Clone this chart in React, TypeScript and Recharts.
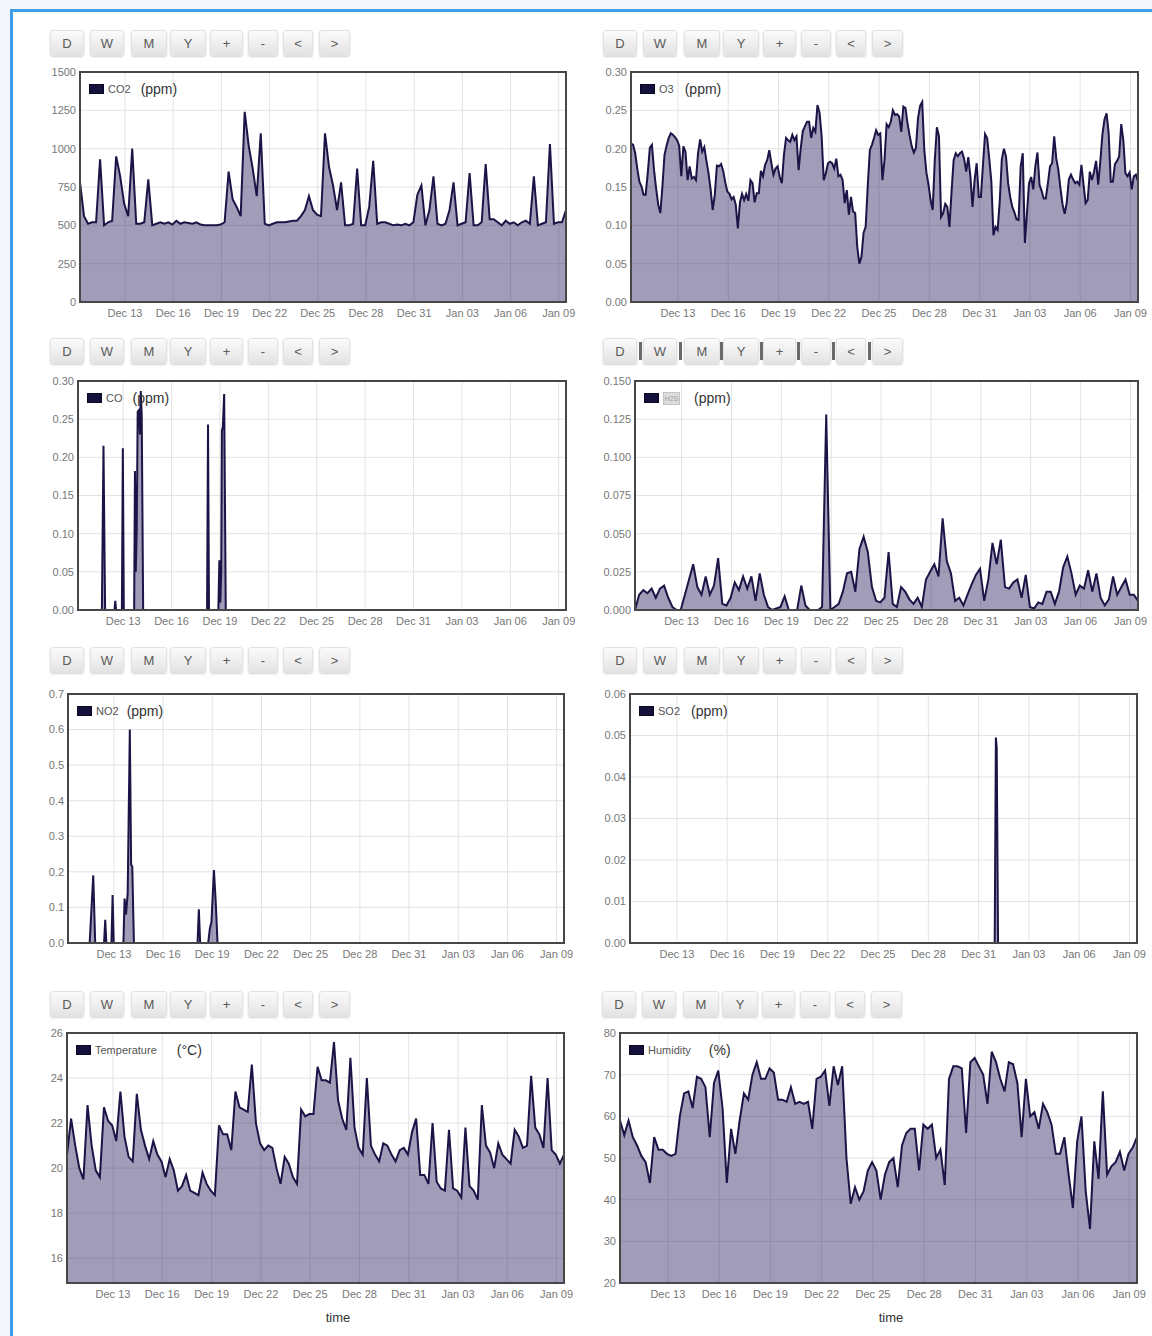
import React from 'react';
import { AreaChart, Area, XAxis, YAxis, CartesianGrid } from 'recharts';

const FONT = '"Liberation Sans", Arial, Helvetica, sans-serif';
const X_DOMAIN: [number, number] = [10.2, 40.45];
const GRID_START = 10.2; // Dec 10, ~05:00
const GRID_STEP = 0.25; // 6 hours
const O3_STEP = 0.125; // 3 hours

// x ticks (day numbers, Jan 1 = 32)
const tickDays = [13, 16, 19, 22, 25, 28, 31, 34, 37, 40];
const tickLabels = ['Dec 13', 'Dec 16', 'Dec 19', 'Dec 22', 'Dec 25', 'Dec 28', 'Dec 31', 'Jan 03', 'Jan 06', 'Jan 09'];

const buttonLabels = ['D', 'W', 'M', 'Y', '+', '-', '<', '>'];

// ---- series on a 6-hour grid ----
const co2Values = [
  780, 560, 510, 520, 520, 930, 500, 520, 530, 950,
  820, 640, 560, 1000, 510, 510, 520, 800, 500, 510,
  520, 510, 520, 505, 530, 510, 520, 515, 510, 520,
  505, 500, 500, 500, 500, 505, 520, 850, 670, 620,
  560, 1240, 1020, 870, 690, 1100, 510, 500, 510, 520,
  520, 520, 525, 530, 530, 560, 600, 690, 600, 570,
  560, 1100, 880, 760, 600, 780, 500, 500, 510, 870,
  500, 500, 620, 920, 510, 520, 520, 510, 500, 505,
  500, 510, 500, 520, 700, 760, 500, 600, 820, 510,
  500, 510, 600, 780, 500, 510, 520, 840, 500, 500,
  520, 900, 540, 540, 520, 500, 530, 510, 520, 500,
  520, 530, 510, 820, 500, 510, 520, 1030, 510, 520,
  520, 600,
];

// 3-hour grid
const o3Values = [
  0.207, 0.205, 0.194, 0.174, 0.157, 0.151, 0.14, 0.14, 0.168, 0.201,
  0.205, 0.172, 0.148, 0.127, 0.116, 0.151, 0.192, 0.204, 0.214, 0.22,
  0.218, 0.215, 0.211, 0.204, 0.164, 0.203, 0.196, 0.159, 0.177, 0.161,
  0.163, 0.159, 0.194, 0.212, 0.196, 0.202, 0.184, 0.168, 0.147, 0.12,
  0.14, 0.178, 0.177, 0.18, 0.171, 0.156, 0.144, 0.141, 0.134, 0.137,
  0.127, 0.096, 0.13, 0.141, 0.133, 0.141, 0.132, 0.159, 0.155, 0.13,
  0.142, 0.142, 0.171, 0.164, 0.179, 0.185, 0.198, 0.181, 0.166, 0.174,
  0.177, 0.163, 0.155, 0.192, 0.214, 0.211, 0.209, 0.218, 0.211, 0.216,
  0.172, 0.2, 0.223, 0.229, 0.235, 0.235, 0.214, 0.227, 0.222, 0.257,
  0.247, 0.216, 0.159, 0.168, 0.181, 0.183, 0.181, 0.174, 0.187, 0.164,
  0.166, 0.159, 0.129, 0.146, 0.114, 0.137, 0.118, 0.116, 0.072, 0.05,
  0.059, 0.09, 0.098, 0.151, 0.198, 0.205, 0.214, 0.224, 0.218, 0.22,
  0.159, 0.185, 0.232, 0.228, 0.235, 0.25, 0.244, 0.245, 0.242, 0.222,
  0.255, 0.253, 0.233, 0.217, 0.203, 0.195, 0.201, 0.24, 0.256, 0.261,
  0.198, 0.169, 0.153, 0.133, 0.12, 0.185, 0.228, 0.216, 0.111, 0.116,
  0.128, 0.124, 0.098, 0.144, 0.185, 0.194, 0.19, 0.194, 0.196, 0.187,
  0.17, 0.189, 0.164, 0.124, 0.159, 0.181, 0.137, 0.137, 0.179, 0.219,
  0.214, 0.187, 0.157, 0.087, 0.098, 0.094, 0.131, 0.186, 0.2, 0.19,
  0.155, 0.137, 0.124, 0.117, 0.108, 0.107, 0.177, 0.194, 0.077, 0.116,
  0.155, 0.163, 0.147, 0.177, 0.195, 0.153, 0.145, 0.135, 0.135, 0.155,
  0.177, 0.181, 0.216, 0.187, 0.172, 0.148, 0.127, 0.115, 0.13, 0.16,
  0.166, 0.16, 0.155, 0.157, 0.153, 0.179, 0.153, 0.129, 0.133, 0.17,
  0.159, 0.17, 0.184, 0.153, 0.183, 0.218, 0.238, 0.246, 0.22, 0.157,
  0.157, 0.18, 0.184, 0.19, 0.232, 0.211, 0.168, 0.164, 0.169, 0.147,
  0.164, 0.166, 0.157,
];

const h2sValues = [
  0.0, 0.01, 0.013, 0.011, 0.014, 0.008, 0.014, 0.016, 0.008, 0.002,
  0.0, 0.0, 0.01, 0.02, 0.03, 0.015, 0.01, 0.022, 0.01, 0.016,
  0.034, 0.004, 0.003, 0.008, 0.018, 0.013, 0.022, 0.014, 0.022, 0.006,
  0.024, 0.01, 0.002, 0.0, 0.001, 0.002, 0.009, 0.0, 0.0, 0.0,
  0.016, 0.003, 0.0, 0.0, 0.0, 0.002, 0.128, 0.0, 0.002, 0.004,
  0.012, 0.024, 0.025, 0.012, 0.04, 0.048, 0.038, 0.015, 0.006, 0.005,
  0.008, 0.038, 0.004, 0.002, 0.015, 0.012, 0.007, 0.004, 0.008, 0.002,
  0.02, 0.025, 0.03, 0.022, 0.06, 0.032, 0.024, 0.006, 0.008, 0.003,
  0.01, 0.017, 0.023, 0.027, 0.006, 0.02, 0.044, 0.03, 0.046, 0.015,
  0.014, 0.018, 0.02, 0.008, 0.023, 0.002, 0.001, 0.005, 0.004, 0.012,
  0.012, 0.004, 0.012, 0.028, 0.035, 0.024, 0.01, 0.016, 0.014, 0.026,
  0.012, 0.024, 0.008, 0.003, 0.007, 0.022, 0.01, 0.015, 0.02, 0.01,
  0.01, 0.006,
];

const tempValues = [
  20.6, 22.2, 21.0, 20.0, 19.5, 22.8, 21.0, 19.9, 19.6, 22.7,
  22.1, 21.9, 21.2, 23.4, 21.4, 20.5, 20.3, 23.3, 21.7, 21.0,
  20.4, 21.2, 20.6, 20.3, 19.6, 20.4, 19.9, 19.0, 19.2, 19.7,
  19.0, 18.9, 18.8, 19.8, 19.3, 19.0, 18.8, 21.9, 21.5, 21.5,
  20.8, 23.4, 22.7, 22.6, 22.5, 24.6, 22.0, 21.1, 20.8, 21.0,
  20.9, 20.0, 19.3, 20.5, 20.2, 19.6, 19.3, 22.6, 22.3, 22.4,
  22.4, 24.5, 23.9, 23.9, 23.8, 25.6, 23.0, 22.2, 21.7, 24.9,
  21.8, 20.9, 20.6, 24.0, 21.0, 20.6, 20.3, 21.1, 21.0, 20.6,
  20.3, 20.8, 20.9, 20.6, 21.6, 22.2, 19.7, 19.7, 19.3, 22.0,
  19.4, 19.1, 19.0, 21.7, 19.1, 19.0, 18.7, 21.8, 19.2, 19.0,
  18.6, 22.8, 21.0, 20.7, 20.0, 21.1, 20.6, 20.4, 20.2, 21.7,
  21.4, 20.9, 21.0, 24.1, 21.8, 21.5, 20.9, 24.0, 20.8, 20.6,
  20.2, 20.6,
];

const humidityValues = [
  59, 55.5, 59, 55, 53, 50.5, 49, 44, 55, 52,
  52, 51, 50.5, 51, 60, 65.5, 66, 62, 69.5, 69,
  67, 55, 68, 71, 62, 44, 57, 51, 59, 65.5,
  64, 70, 73, 69, 69, 71.5, 70.5, 64, 64, 63.5,
  67, 63, 63.5, 63, 63.5, 57, 69, 69.5, 71, 62.5,
  72, 67.5, 72, 50, 39, 43, 40, 42, 47, 49,
  47, 40, 46, 49, 50, 43, 53, 56, 57, 57,
  47, 58, 57, 58, 50, 52, 43.5, 69, 72, 72,
  71.5, 56, 73, 74, 72, 70, 63, 75.5, 73, 69,
  66, 73, 72.5, 68, 55, 69, 60, 61, 57, 63,
  61, 58, 51, 51, 55, 46, 38, 54, 60, 42,
  33, 54, 45, 66, 46, 48, 49, 51.5, 47, 51,
  52.5, 55,
];

// ---- sparse spike series (time, value) ----
const coTimes = [10.2, 11.68, 11.78, 11.88, 12.46, 12.51, 12.56, 12.92, 12.98, 13.04, 13.68, 13.73, 13.78, 13.84, 13.9, 13.98, 14.04, 14.09, 14.15, 14.24, 18.2, 18.26, 18.32, 18.9, 18.96, 19.02, 19.08, 19.12, 19.18, 19.26, 19.36, 40.45];
const coValues = [0, 0, 0.215, 0, 0, 0.012, 0, 0, 0.212, 0, 0, 0.182, 0.05, 0.105, 0.26, 0.262, 0.23, 0.287, 0.255, 0, 0, 0.243, 0, 0, 0.065, 0.01, 0.05, 0.235, 0.24, 0.283, 0, 0];

const no2Times = [10.2, 11.52, 11.59, 11.74, 11.86, 12.4, 12.47, 12.54, 12.85, 12.92, 12.99, 13.58, 13.65, 13.74, 13.84, 13.97, 14.05, 14.12, 14.22, 18.1, 18.18, 18.26, 18.75, 18.85, 18.95, 19.1, 19.21, 19.32, 40.45];
const no2Values = [0, 0, 0.06, 0.19, 0, 0, 0.065, 0, 0, 0.135, 0, 0, 0.125, 0.08, 0.14, 0.6, 0.22, 0.215, 0, 0, 0.095, 0, 0, 0.04, 0.06, 0.205, 0.115, 0, 0];

const so2Times = [10.2, 31.96, 32.03, 32.08, 32.16, 40.45];
const so2Values = [0, 0, 0.0495, 0.047, 0, 0];

// ---- y ticks ----
const co2Ticks = [0, 250, 500, 750, 1000, 1250, 1500];
const o3Ticks = [0, 0.05, 0.1, 0.15, 0.2, 0.25, 0.3];
const coTicks = [0, 0.05, 0.1, 0.15, 0.2, 0.25, 0.3];
const h2sTicks = [0, 0.025, 0.05, 0.075, 0.1, 0.125, 0.15];
const no2Ticks = [0, 0.1, 0.2, 0.3, 0.4, 0.5, 0.6, 0.7];
const so2Ticks = [0, 0.01, 0.02, 0.03, 0.04, 0.05, 0.06];
const tempTicks = [16, 18, 20, 22, 24, 26];
const humidityTicks = [20, 30, 40, 50, 60, 70, 80];

type Pt = { t: number; v: number };
const gridSeries = (values: number[], step: number = GRID_STEP): Pt[] =>
  values.map((v, i) => ({ t: Math.round((GRID_START + i * step) * 1000) / 1000, v }));
const pairSeries = (times: number[], values: number[]): Pt[] => times.map((t, i) => ({ t, v: values[i] }));

const YW = 50;
const MT = 10;
const MR = 25;
const XH = 26;

const BTN_OFFSETS = [0, 40, 81, 120, 160, 198, 233, 269];
const BTN_WIDTHS = [34, 34, 36, 36, 33, 30, 30, 31];

function ButtonRow({ left, top, separators }: { left: number; top: number; separators?: boolean }) {
  return (
    <>
      {buttonLabels.map((b, i) => (
        <div
          key={b}
          style={{
            position: 'absolute',
            left: left + BTN_OFFSETS[i],
            top,
            width: BTN_WIDTHS[i],
            height: 26,
            lineHeight: '26px',
            textAlign: 'center',
            fontSize: 13,
            color: '#5a5a5a',
            background: 'linear-gradient(#fbfbfb, #e3e3e3)',
            border: '1px solid #e2e2e2',
            borderRadius: 3,
            boxShadow: '0 1px 2px rgba(0,0,0,0.18)',
            boxSizing: 'border-box',
          }}
        >
          {b}
        </div>
      ))}
      {separators &&
        BTN_OFFSETS.slice(1).map((o, i) => (
          <div
            key={'sep' + i}
            style={{
              position: 'absolute',
              left: left + (BTN_OFFSETS[i] + BTN_WIDTHS[i] + o) / 2 - 1.5,
              top: top + 4,
              width: 3,
              height: 18,
              background: '#6a6a6a',
            }}
          />
        ))}
    </>
  );
}

type PanelProps = {
  plotLeft: number;
  plotTop: number;
  plotRight: number;
  plotBottom: number;
  data: Pt[];
  yDomain: [number, number];
  yTicks: number[];
  decimals: number;
  name: string;
  unit: string;
  unitGap: number;
  btnLeft: number;
  btnTop: number;
  separators?: boolean;
  maskedName?: boolean;
};

function Panel(p: PanelProps) {
  const w = p.plotRight - p.plotLeft;
  const h = p.plotBottom - p.plotTop;
  const tickStyle = { fill: '#777', fontSize: 11, fontFamily: FONT };
  return (
    <>
      <ButtonRow left={p.btnLeft} top={p.btnTop} separators={p.separators} />
      <div style={{ position: 'absolute', left: p.plotLeft - YW, top: p.plotTop - MT }}>
        <AreaChart
          width={w + YW + MR}
          height={h + MT + XH}
          data={p.data}
          margin={{ top: MT, right: MR, bottom: 0, left: 0 }}
          style={{ overflow: 'visible' }}
        >
          <CartesianGrid stroke="#e3e3e3" strokeWidth={1} />
          <XAxis
            dataKey="t"
            type="number"
            domain={X_DOMAIN}
            ticks={tickDays}
            interval={0}
            allowDataOverflow
            height={XH}
            axisLine={false}
            tickLine={false}
            tickSize={0}
            tickMargin={7}
            tick={tickStyle}
            tickFormatter={(d: number) => tickLabels[tickDays.indexOf(d)] ?? ''}
          />
          <YAxis
            type="number"
            domain={p.yDomain}
            ticks={p.yTicks}
            interval={0}
            allowDataOverflow
            width={YW}
            axisLine={false}
            tickLine={false}
            tickSize={0}
            tickMargin={4}
            tick={tickStyle}
            tickFormatter={(v: number) => v.toFixed(p.decimals)}
          />
          <Area
            type="linear"
            dataKey="v"
            stroke="#1c1446"
            strokeWidth={2}
            fill="#1e1456"
            fillOpacity={0.42}
            dot={false}
            activeDot={false}
            isAnimationActive={false}
          />
        </AreaChart>
      </div>
      <div
        style={{
          position: 'absolute',
          left: p.plotLeft - 1,
          top: p.plotTop - 1,
          width: w + 2,
          height: h + 2,
          border: '2px solid #474747',
          boxSizing: 'border-box',
          pointerEvents: 'none',
        }}
      />
      <div
        style={{
          position: 'absolute',
          left: p.plotLeft + 9,
          top: p.plotTop + 9,
          height: 16,
          display: 'flex',
          alignItems: 'center',
          whiteSpace: 'nowrap',
        }}
      >
        <div style={{ width: 13, height: 8, background: '#14113c', border: '1px solid #0a0820' }} />
        {p.maskedName ? (
          <div
            style={{
              marginLeft: 4,
              width: 15,
              height: 11,
              background: '#dcdcdc',
              border: '1px solid #c4c4c4',
              fontSize: 7,
              lineHeight: '11px',
              color: '#a0a0a0',
              textAlign: 'center',
              overflow: 'hidden',
            }}
          >
            {p.name}
          </div>
        ) : (
          <span style={{ marginLeft: 4, fontSize: 11, color: '#555' }}>{p.name}</span>
        )}
        <span style={{ marginLeft: p.unitGap, fontSize: 14, color: '#333' }}>{p.unit}</span>
      </div>
    </>
  );
}

export default function App() {
  const co2 = gridSeries(co2Values);
  const o3 = gridSeries(o3Values, O3_STEP);
  const h2s = gridSeries(h2sValues);
  const temp = gridSeries(tempValues);
  const hum = gridSeries(humidityValues);
  const co = pairSeries(coTimes, coValues);
  const no2 = pairSeries(no2Times, no2Values);
  const so2 = pairSeries(so2Times, so2Values);

  return (
    <div
      style={{
        position: 'absolute',
        left: 0,
        top: 0,
        width: 1152,
        height: 1336,
        overflow: 'hidden',
        background: '#f3f7fb',
        fontFamily: FONT,
      }}
    >
      <div
        style={{
          position: 'absolute',
          left: 10,
          top: 9,
          width: 1170,
          height: 1360,
          borderLeft: '3px solid #3d9de8',
          borderTop: '3px solid #3d9de8',
          background: '#ffffff',
          boxSizing: 'border-box',
        }}
      />
      <Panel plotLeft={80} plotTop={72} plotRight={566} plotBottom={302} data={co2} yDomain={[0, 1500]} yTicks={co2Ticks} decimals={0}
        name="CO2" unit="(ppm)" unitGap={10} btnLeft={50} btnTop={30} />
      <Panel plotLeft={631} plotTop={72} plotRight={1138} plotBottom={302} data={o3} yDomain={[0, 0.3]} yTicks={o3Ticks} decimals={2}
        name="O3" unit="(ppm)" unitGap={11} btnLeft={603} btnTop={30} />
      <Panel plotLeft={78} plotTop={381} plotRight={566} plotBottom={610} data={co} yDomain={[0, 0.3]} yTicks={coTicks} decimals={2}
        name="CO" unit="(ppm)" unitGap={10} btnLeft={50} btnTop={338} />
      <Panel plotLeft={635} plotTop={381} plotRight={1138} plotBottom={610} data={h2s} yDomain={[0, 0.15]} yTicks={h2sTicks} decimals={3}
        name="H2S" unit="(ppm)" unitGap={14} btnLeft={603} btnTop={338} separators maskedName />
      <Panel plotLeft={68} plotTop={694} plotRight={564} plotBottom={943} data={no2} yDomain={[0, 0.7]} yTicks={no2Ticks} decimals={1}
        name="NO2" unit="(ppm)" unitGap={8} btnLeft={50} btnTop={647} />
      <Panel plotLeft={630} plotTop={694} plotRight={1137} plotBottom={943} data={so2} yDomain={[0, 0.06]} yTicks={so2Ticks} decimals={2}
        name="SO2" unit="(ppm)" unitGap={11} btnLeft={603} btnTop={647} />
      <Panel plotLeft={67} plotTop={1033} plotRight={564} plotBottom={1283} data={temp} yDomain={[14.9, 26]} yTicks={tempTicks} decimals={0}
        name="Temperature" unit="(°C)" unitGap={20} btnLeft={50} btnTop={991} />
      <Panel plotLeft={620} plotTop={1033} plotRight={1137} plotBottom={1283} data={hum} yDomain={[20, 80]} yTicks={humidityTicks} decimals={0}
        name="Humidity" unit="(%)" unitGap={18} btnLeft={602} btnTop={991} />
      <div style={{ position: 'absolute', left: 318, width: 40, top: 1310, textAlign: 'center', fontSize: 13, color: '#333' }}>time</div>
      <div style={{ position: 'absolute', left: 871, width: 40, top: 1310, textAlign: 'center', fontSize: 13, color: '#333' }}>time</div>
    </div>
  );
}
